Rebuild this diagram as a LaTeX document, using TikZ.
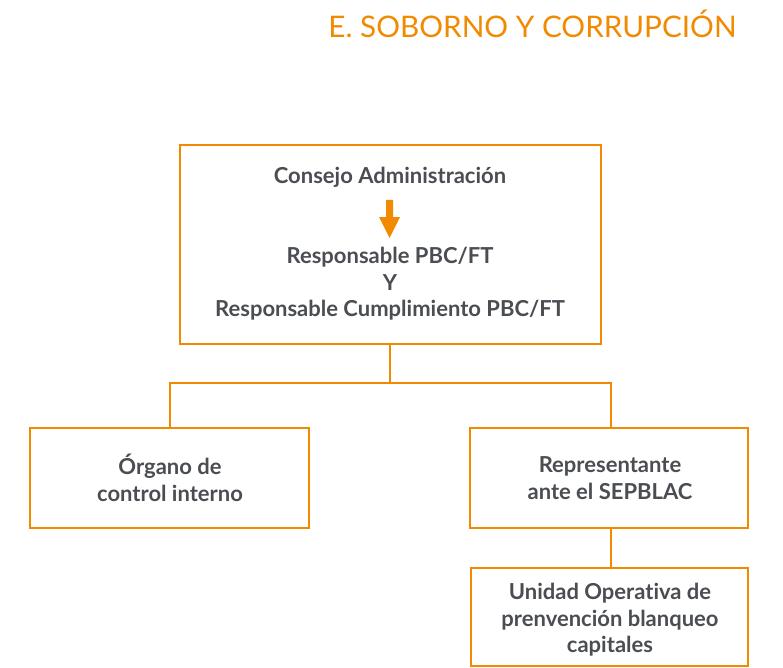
\documentclass[tikz,border=0pt]{standalone}
\usepackage{fontspec}
\setmainfont{Lato}[Ligatures=NoCommon]
\definecolor{orng}{HTML}{F18A00}
\definecolor{txtgray}{HTML}{4A4D52}
\begin{document}
\begin{tikzpicture}[x=1pt,y=-1pt,
  lbl/.style={text=txtgray, font=\bfseries\fontsize{22}{26.5}\selectfont, align=center},
  boxline/.style={draw=orng, line width=2.8pt},
  conn/.style={draw=orng, line width=2.5pt}]
\useasboundingbox (0,0) rectangle (783,668);
\node[text=orng, font=\fontsize{29.7}{32}\selectfont, anchor=east] (title) at (740,24) {E. SOBORNO Y CORRUPCIÓN};
% top box
\draw[boxline] (180,145) rectangle (601,344);
\coordinate (topbot) at (390,344);
\node[lbl] (consejo) at (390,177) {Consejo Administración};
\node[lbl] (resp) at (390,284) {Responsable PBC/FT\\Y\\Responsable Cumplimiento PBC/FT};
\fill[orng] (386,200) -- (393,200) -- (393,217) -- (400,217) -- (389.5,238) -- (379,217) -- (386,217) -- cycle;
% left / right boxes
\draw[boxline] (30,428) rectangle (309,528);
\node[lbl] (organo) at (170,478) {Órgano de\\control interno};
\draw[boxline] (470,428) rectangle (748,528);
\node[lbl] (repr) at (610,478) {Representante\\ante el SEPBLAC};
\coordinate (ltop) at (170,428);
\coordinate (rtop) at (611,428);
\coordinate (rbot) at (611,528);
% bottom box
\draw[boxline] (471,568) rectangle (748,666);
\node[lbl] (unidad) at (610,620) {Unidad Operativa de\\prenvención blanqueo\\capitales};
\coordinate (btop) at (611,568);
% connectors
\draw[conn] (topbot) -- (390,383) -- (170,383) -- (ltop);
\draw[conn] (390,383) -- (611,383) -- (rtop);
\draw[conn] (rbot) -- (btop);
\end{tikzpicture}
\end{document}
